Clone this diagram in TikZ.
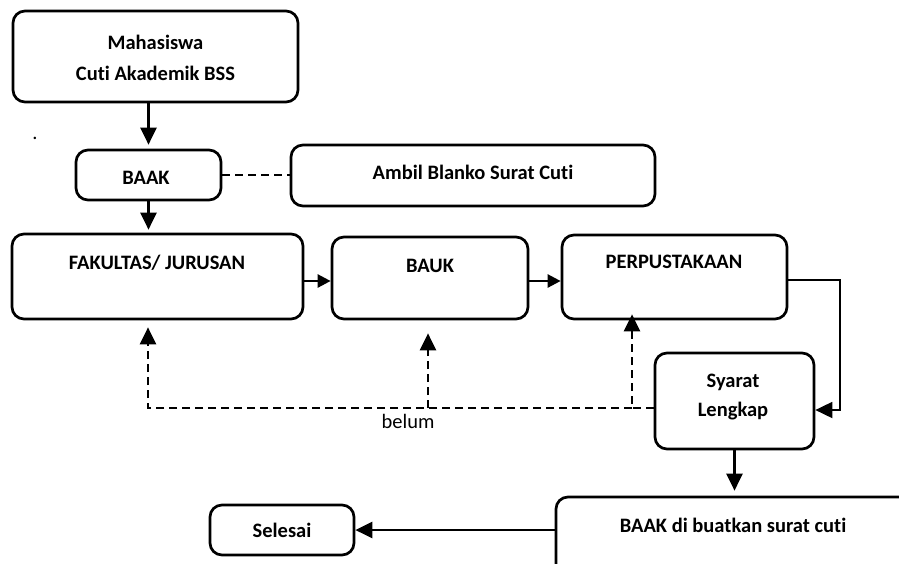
\documentclass[tikz,border=0pt]{standalone}
\usepackage{fontspec}
\setmainfont{Carlito}[Ligatures=NoCommon]
\usetikzlibrary{arrows.meta}
\tikzset{
  box/.style={draw, line width=2.7pt, rounded corners=12pt, inner sep=0pt},
  txt/.style={inner sep=0pt, font=\fontsize{20.5}{30}\selectfont\bfseries, align=center},
  ntxt/.style={inner sep=0pt, font=\fontsize{20.5}{30}\selectfont},
  tip/.style={-{Triangle[length=17pt,width=16pt]}},
  stip/.style={-{Triangle[length=13pt,width=13pt]}},
  arr/.style={line width=2.5pt, tip},
  darr/.style={line width=2.5pt, dash pattern=on 8pt off 5pt, tip},
  dsh/.style={line width=2.5pt, dash pattern=on 8pt off 5pt},
}
\begin{document}
\begin{tikzpicture}[x=1pt,y=-1pt]
\clip (0,0) rectangle (899,563);
\fill[white] (0,0) rectangle (899,563);
% boxes
\node[box, minimum width=285pt, minimum height=91pt] (mhs) at (155.5,56.5) {};
\node[box, minimum width=145pt, minimum height=50pt] (baak) at (148.5,175) {};
\node[box, minimum width=364pt, minimum height=61pt] (ambil) at (473,175.5) {};
\node[box, minimum width=291pt, minimum height=85pt] (fak) at (157.5,276.5) {};
\node[box, minimum width=196pt, minimum height=82pt] (bauk) at (430,278) {};
\node[box, minimum width=225pt, minimum height=84pt] (perp) at (674.5,277) {};
\node[box, minimum width=159pt, minimum height=96pt] (syarat) at (734.5,401) {};
\node[box, minimum width=364pt, minimum height=83pt] (bot) at (738,538.5) {};
\node[box, minimum width=144pt, minimum height=50pt] (selesai) at (282,530) {};
% texts
\node[txt] (tmhs) at (155.5,57.5) {Mahasiswa\\[1pt]Cuti Akademik BSS};
\node[txt] (tbaak) at (146,178) {BAAK};
\node[txt] (tambil) at (473,172) {Ambil Blanko Surat Cuti};
\node[txt] (tfak) at (157,263) {FAKULTAS/ JURUSAN};
\node[txt] (tbauk) at (430,266) {BAUK};
\node[txt] (tperp) at (674,262) {PERPUSTAKAAN};
\node[txt, font=\fontsize{20.5}{29}\selectfont\bfseries] (tsyarat) at (733,397.5) {Syarat\\Lengkap};
\node[txt] (tbot) at (733,525) {BAAK di buatkan surat cuti};
\node[txt] (tsel) at (282,530) {Selesai};
\node[ntxt] (belum) at (408,421) {belum};
\node[ntxt] (dot) at (35,138) {.};
% coordinates
\coordinate (r1) at (0,281);
\coordinate (k) at (840,410);
\coordinate (dA) at (632,408);
\coordinate (dB) at (148,408);
\coordinate (dC) at (428,408);
% connectors
\draw[arr, shorten >=4pt] (baak.north |- mhs.south) -- (baak.north);
\draw[dsh] (baak.east) -- (ambil.west |- baak.east);
\draw[arr, shorten >=3pt] (baak.south) -- (baak.south |- fak.north);
\draw[line width=2.5pt, stip] (fak.east |- r1) -- (bauk.west |- r1);
\draw[line width=2.5pt, stip] (bauk.east |- r1) -- (perp.west |- r1);
\draw[line width=1.8pt, tip] (perp.east |- 0,280) -| (k) -- (syarat.east |- k);
\draw[darr, shorten >=-6pt] (syarat.west |- dA) -- (dA) -- (dA |- perp.south);
\draw[darr, shorten >=7pt] (dA) -- (dB) -- (dB |- fak.south);
\draw[darr, shorten >=13pt] (dC) -- (dC |- bauk.south);
\draw[arr, shorten >=5pt] (syarat.south) -- (syarat.south |- bot.north);
\draw[arr] (bot.west |- selesai.east) -- (selesai.east);
\end{tikzpicture}
\end{document}
